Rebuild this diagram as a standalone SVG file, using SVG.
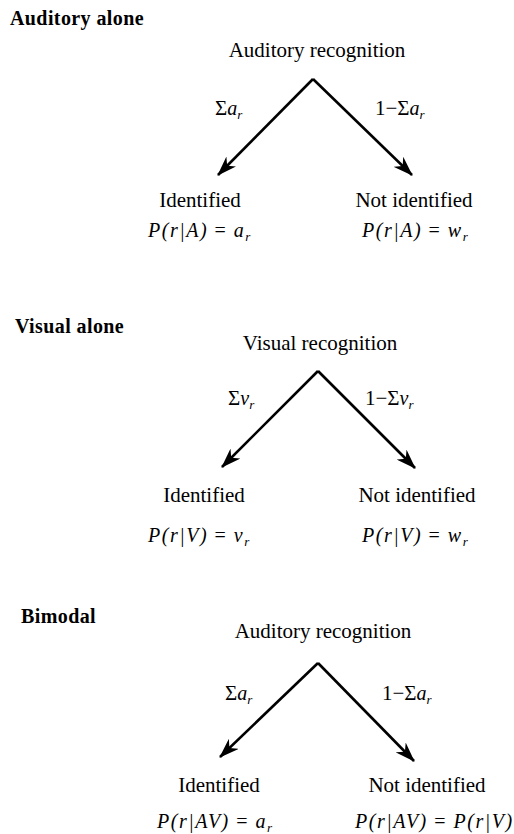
<svg xmlns="http://www.w3.org/2000/svg" width="514" height="834" viewBox="0 0 514 834">
<style>
text{font-family:"Liberation Serif","Times New Roman",serif;fill:#000;font-size:21px}
.h{font-weight:bold;font-size:20px;letter-spacing:0.4px}
.m{font-style:italic;font-size:20px}
.p{letter-spacing:1.5px}
.u{font-style:normal}
.s{font-size:13px;font-style:italic}
.c{text-anchor:middle}
.e{stroke:#000;stroke-width:2.6;fill:none;marker-end:url(#ah)}
</style>
<defs>
<marker id="ah" viewBox="0 0 20 14" refX="19" refY="7" markerWidth="20" markerHeight="14" markerUnits="userSpaceOnUse" orient="auto">
<path d="M0,0 L20,7 L0,14 L6,7 Z" fill="#000"/>
</marker>
</defs>
<rect width="514" height="834" fill="#fff"/>
<g id="connectors">
<path class="e" d="M313,79 L218,175"/>
<path class="e" d="M313,79 L412,175"/>
<path class="e" d="M318,371 L222,467"/>
<path class="e" d="M318,371 L415,468"/>
<path class="e" d="M318,663 L220,757"/>
<path class="e" d="M318,663 L414,761"/>
</g>
<g id="panel1">
<text class="h" x="10" y="25">Auditory alone</text>
<g id="n1root"><text class="c" x="317" y="57">Auditory recognition</text></g>
<text x="215" y="115">Σ<tspan class="m">a</tspan><tspan class="s" dy="4">r</tspan></text>
<text x="375" y="115">1−Σ<tspan class="m">a</tspan><tspan class="s" dy="4">r</tspan></text>
<g id="n1id"><text class="c" x="200" y="207">Identified</text>
<text class="m p" x="148" y="237">P(r|A) <tspan class="u">=</tspan> a<tspan class="s" dy="4">r</tspan></text></g>
<g id="n1not"><text class="c" x="414" y="207">Not identified</text>
<text class="m p" x="362" y="237">P(r|A) <tspan class="u">=</tspan> w<tspan class="s" dy="4">r</tspan></text></g>
</g>
<g id="panel2">
<text class="h" x="15" y="333">Visual alone</text>
<g id="n2root"><text class="c" x="320" y="350">Visual recognition</text></g>
<text x="228" y="405">Σ<tspan class="m">v</tspan><tspan class="s" dy="4">r</tspan></text>
<text x="365" y="405">1−Σ<tspan class="m">v</tspan><tspan class="s" dy="4">r</tspan></text>
<g id="n2id"><text class="c" x="204" y="502">Identified</text>
<text class="m p" x="148" y="542">P(r|V) <tspan class="u">=</tspan> v<tspan class="s" dy="4">r</tspan></text></g>
<g id="n2not"><text class="c" x="417" y="502">Not identified</text>
<text class="m p" x="362" y="542">P(r|V) <tspan class="u">=</tspan> w<tspan class="s" dy="4">r</tspan></text></g>
</g>
<g id="panel3">
<text class="h" x="21" y="623">Bimodal</text>
<g id="n3root"><text class="c" x="323" y="638">Auditory recognition</text></g>
<text x="225" y="700">Σ<tspan class="m">a</tspan><tspan class="s" dy="4">r</tspan></text>
<text x="382" y="700">1−Σ<tspan class="m">a</tspan><tspan class="s" dy="4">r</tspan></text>
<g id="n3id"><text class="c" x="219" y="792">Identified</text>
<text class="m p" x="157" y="828">P(r|AV) <tspan class="u">=</tspan> a<tspan class="s" dy="4">r</tspan></text></g>
<g id="n3not"><text class="c" x="427" y="792">Not identified</text>
<text class="m p" x="355" y="828">P(r|AV) <tspan class="u">=</tspan> P(r|V)</text></g>
</g>
</svg>
